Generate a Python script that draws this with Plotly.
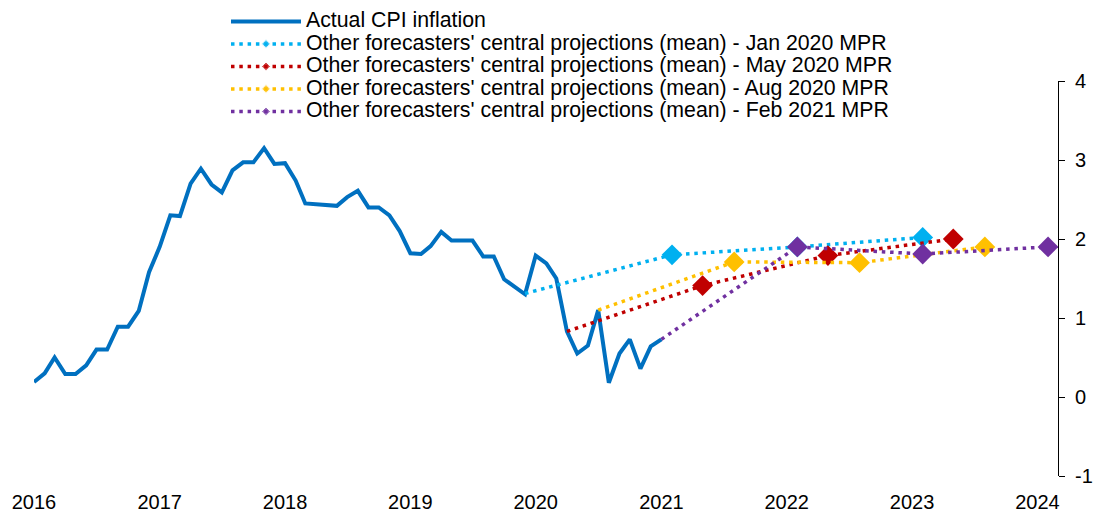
import pandas as pd
import plotly.graph_objects as go

# ---- data ----
actual_months = pd.date_range("2016-01-01", "2021-01-01", freq="MS")
actual_cpi = [0.19, 0.30, 0.50, 0.29, 0.29, 0.40, 0.60, 0.60, 0.89, 0.89, 1.09, 1.58,
              1.90, 2.30, 2.29, 2.70, 2.89, 2.69, 2.59, 2.87, 2.97, 2.97, 3.15, 2.95,
              2.96, 2.74, 2.45, 2.44, 2.43, 2.42, 2.53, 2.61, 2.40, 2.40, 2.30, 2.10,
              1.82, 1.81, 1.91, 2.09, 1.98, 1.98, 1.98, 1.78, 1.78, 1.49, 1.40, 1.30,
              1.79, 1.69, 1.50, 0.83, 0.55, 0.65, 1.10, 0.18, 0.55, 0.73, 0.36, 0.64,
              0.73]

jan20_dates = ["2019-12-01", "2021-02-01", "2022-02-01", "2023-02-01"]
jan20_vals = [1.31, 1.80, 1.90, 2.02]
may20_dates = ["2020-04-01", "2021-05-01", "2022-05-01", "2023-05-01"]
may20_vals = [0.83, 1.41, 1.79, 2.00]
aug20_dates = ["2020-07-01", "2021-08-01", "2022-08-01", "2023-08-01"]
aug20_vals = [1.10, 1.71, 1.70, 1.90]
feb21_dates = ["2021-01-01", "2022-02-01", "2023-02-01", "2024-02-01"]
feb21_vals = [0.73, 1.90, 1.81, 1.90]

series_names = [
    "Actual CPI inflation",
    "Other forecasters' central projections (mean) - Jan 2020 MPR",
    "Other forecasters' central projections (mean) - May 2020 MPR",
    "Other forecasters' central projections (mean) - Aug 2020 MPR",
    "Other forecasters' central projections (mean) - Feb 2021 MPR",
]
colors = ["#0070C0", "#00B0F0", "#C00000", "#FFC000", "#7030A0"]

y_ticks = [-1, 0, 1, 2, 3, 4]
y_ticktext = ["-1", "0", "1", "2", "3", "4"]

FONT = "Arial, 'Liberation Sans', sans-serif"


def legend_name(s):
    return '<span style="font-size:21.3px">' + s + "</span>"


fig = go.Figure()

fig.add_trace(go.Scatter(
    x=actual_months, y=actual_cpi, mode="lines",
    name=legend_name(series_names[0]),
    line=dict(color=colors[0], width=4),
))

forecasts = [
    (jan20_dates, jan20_vals),
    (may20_dates, may20_vals),
    (aug20_dates, aug20_vals),
    (feb21_dates, feb21_vals),
]

for k, (d, v) in enumerate(forecasts):
    c = colors[k + 1]
    fig.add_trace(go.Scatter(
        x=d, y=v, mode="lines+markers",
        name=legend_name(series_names[k + 1]),
        legendgroup="g%d" % k,
        line=dict(color=c, width=3.5, dash="3.5px,4.8px"),
        marker=dict(symbol="diamond", color=c, size=[0] + [9] * (len(v) - 1)),
    ))
    fig.add_trace(go.Scatter(
        x=d[1:], y=v[1:], mode="markers",
        legendgroup="g%d" % k, showlegend=False,
        marker=dict(symbol="diamond", color=c, size=16),
    ))

fig.update_layout(
    width=1093, height=512,
    margin=dict(l=34, r=35, t=81, b=36, autoexpand=False),
    paper_bgcolor="white", plot_bgcolor="white",
    font=dict(family=FONT, size=20, color="black"),
    showlegend=True,
    legend=dict(
        x=0.1875, y=1.192, xanchor="left", yanchor="top",
        bgcolor="rgba(0,0,0,0)", itemwidth=70,
        font=dict(family=FONT, size=15, color="black"),
        traceorder="normal",
    ),
    xaxis=dict(
        type="date", range=["2016-01-01", "2024-03-01"],
        showline=False, ticks="", showgrid=False, zeroline=False,
        tickformat="%Y", dtick="M12", tick0="2016-01-01",
        tickfont=dict(size=20, color="black"), ticklabelstandoff=12,
        automargin=False,
    ),
    xaxis2=dict(
        type="date", overlaying="x", matches="x", anchor="free", position=0.2,
        showline=True, linecolor="#7f7f7f", linewidth=1.5,
        ticks="outside", ticklen=6, tickcolor="#404040", tickwidth=1,
        dtick="M12", tick0="2016-01-01", showticklabels=False,
        showgrid=False, zeroline=False, automargin=False,
    ),
    yaxis=dict(
        range=[-1, 4], side="right", showline=True, linecolor="black", linewidth=1,
        ticks="outside", ticklen=6, tickcolor="black",
        tickvals=y_ticks, ticktext=y_ticktext, showgrid=False, zeroline=False,
        tickfont=dict(size=20, color="black"), ticklabelstandoff=6,
        automargin=False,
    ),
)

# remove the default 8px page margin so the 1093x512 figure fills the window
fig.write_html(
    "out.html",
    config={"displayModeBar": False},
    post_script="document.body.style.margin='0';document.body.style.overflow='hidden';",
)
